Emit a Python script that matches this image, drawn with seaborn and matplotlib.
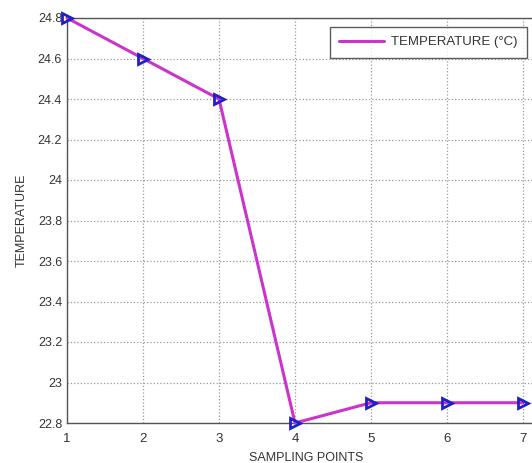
import matplotlib
matplotlib.use("Agg")
import matplotlib.pyplot as plt
import seaborn as sns
import pandas as pd

sampling_points = [1, 2, 3, 4, 5, 6, 7]
temperature = [24.8, 24.6, 24.4, 22.8, 22.9, 22.9, 22.9]
y_ticks = [22.8, 23.0, 23.2, 23.4, 23.6, 23.8, 24.0, 24.2, 24.4, 24.6, 24.8]
y_tick_labels = ["22.8", "23", "23.2", "23.4", "23.6", "23.8", "24", "24.2", "24.4", "24.6", "24.8"]
x_ticks = [1, 2, 3, 4, 5, 6, 7]

sns.set_style("white")
plt.rcParams['font.family'] = ['Liberation Sans', 'DejaVu Sans']

df = pd.DataFrame({"x": sampling_points, "TEMPERATURE (°C)": temperature})

W, H = 532, 463
fig = plt.figure(figsize=(W / 100, H / 100), dpi=100)
left_px, right_px, top_px, bot_px = 67, 545, 18, 423
ax = fig.add_axes([left_px / W, 1 - bot_px / H, (right_px - left_px) / W, (bot_px - top_px) / H])

sns.lineplot(data=df, x="x", y="TEMPERATURE (°C)", ax=ax, color="#cc33cc", lw=2.2,
             marker=">", markersize=7.5, markeredgecolor="#2020c8", markerfacecolor="none",
             markeredgewidth=2.0, label="TEMPERATURE (°C)", clip_on=False, zorder=5)

px_per_unit = (523 - left_px) / 6
ax.set_xlim(1, 7 + (right_px - 523) / px_per_unit)
ax.set_ylim(22.8, 24.8)
ax.set_xticks(x_ticks)
ax.set_xticklabels([str(v) for v in x_ticks])
ax.set_yticks(y_ticks)
ax.set_yticklabels(y_tick_labels)
ax.tick_params(direction="in", length=4, labelsize=9, colors="#333333", width=0.8)
ax.tick_params(axis="x", pad=7, labelsize=9.5)
for lab in ax.get_xticklabels() + ax.get_yticklabels():
    lab.set_color("#333333")
ax.grid(True, linestyle=":", color="#999999", linewidth=0.9)
for s in ax.spines.values():
    s.set_color("#555555")
    s.set_linewidth(1.0)
ax.set_xlabel("SAMPLING POINTS", fontsize=9, color="#333333", labelpad=5)
ax.set_ylabel("TEMPERATURE", fontsize=9, color="#333333", labelpad=7)

leg = ax.legend(loc="upper right", bbox_to_anchor=((527 - left_px) / (right_px - left_px), 1 - (27 - top_px) / (bot_px - top_px)),
                frameon=True, fancybox=False, fontsize=9.5, handlelength=3.4, handletextpad=0.55,
                borderpad=0.7, borderaxespad=0)
leg.get_frame().set_edgecolor("#333333")
leg.get_frame().set_linewidth(1.0)
for h in leg.legend_handles:
    h.set_marker("")
for t in leg.get_texts():
    t.set_color("#333333")

fig.savefig("out.png", dpi=100)
